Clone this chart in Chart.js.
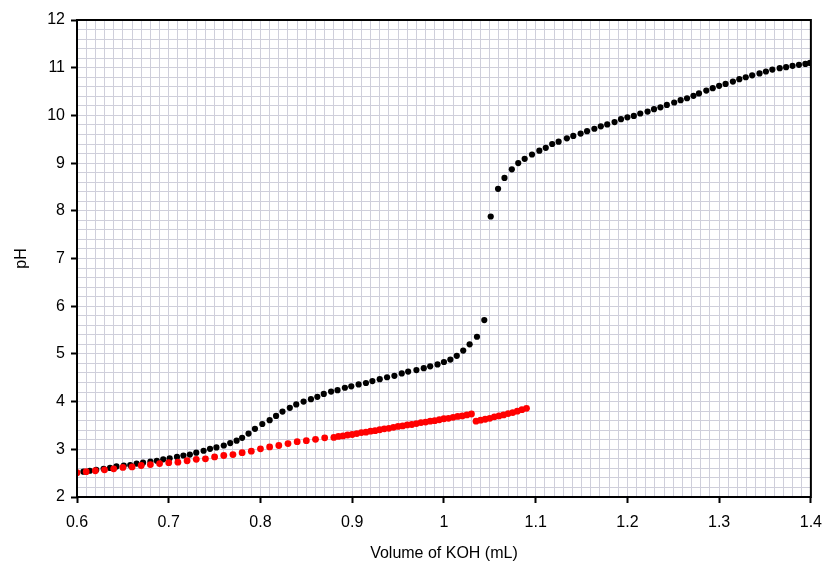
<!DOCTYPE html>
<html>
<head>
<meta charset="utf-8">
<script src="https://cdn.jsdelivr.net/npm/chart.js@4/dist/chart.umd.min.js"></script>
<style>
  html, body { margin: 0; padding: 0; background: #fff; }
  #wrap { width: 832px; height: 571px; position: relative; }
</style>
</head>
<body>
<div id="wrap"><canvas id="c"></canvas></div>
<script>
'use strict';
// Titration curves: pH vs volume of KOH.

const blackVol = [
  0.607, 0.614, 0.621, 0.629, 0.636, 0.643, 0.651, 0.658, 0.665, 0.672, 0.680, 0.687, 0.694,
  0.701, 0.709, 0.716, 0.723, 0.730, 0.738, 0.745, 0.752, 0.760, 0.767, 0.774, 0.780, 0.787,
  0.794, 0.802, 0.810, 0.817, 0.824, 0.832, 0.839, 0.847, 0.855, 0.862, 0.869, 0.877, 0.884,
  0.892, 0.899, 0.907, 0.915, 0.922, 0.930, 0.938, 0.946, 0.954, 0.961, 0.970, 0.978, 0.985,
  0.993, 1.000, 1.007, 1.014, 1.021, 1.028, 1.036, 1.044,
  1.051, 1.059, 1.066, 1.074, 1.081, 1.088, 1.096, 1.104, 1.111, 1.118, 1.125, 1.134, 1.141,
  1.149, 1.156, 1.164, 1.171, 1.178, 1.186, 1.193, 1.200, 1.207, 1.214, 1.222, 1.229, 1.236,
  1.243, 1.251, 1.258, 1.265, 1.272, 1.278, 1.286, 1.293, 1.300, 1.307, 1.315, 1.322, 1.329,
  1.336, 1.344, 1.351, 1.358, 1.366, 1.373, 1.380, 1.387, 1.394, 1.399
];
const blackPH = [
  2.53, 2.55, 2.57, 2.59, 2.61, 2.64, 2.66, 2.67, 2.70, 2.72, 2.74, 2.76, 2.79,
  2.81, 2.84, 2.87, 2.89, 2.93, 2.97, 3.01, 3.04, 3.08, 3.13, 3.18, 3.24, 3.33,
  3.43, 3.53, 3.61, 3.70, 3.79, 3.87, 3.94, 4.00, 4.05, 4.10, 4.16, 4.21, 4.24,
  4.29, 4.32, 4.36, 4.39, 4.43, 4.47, 4.51, 4.54, 4.59, 4.63, 4.66, 4.70, 4.74,
  4.78, 4.83, 4.88, 4.96, 5.07, 5.20, 5.36, 5.71,
  7.88, 8.46, 8.69, 8.87, 9.00, 9.09, 9.18, 9.26, 9.32, 9.40, 9.45, 9.52, 9.57,
  9.62, 9.67, 9.72, 9.77, 9.81, 9.86, 9.92, 9.96, 9.99, 10.04, 10.08, 10.13, 10.17,
  10.22, 10.27, 10.32, 10.36, 10.41, 10.46, 10.52, 10.57, 10.62, 10.66, 10.71, 10.76, 10.80,
  10.84, 10.88, 10.92, 10.96, 10.99, 11.01, 11.04, 11.06, 11.08, 11.10
];

const redVol = [
  0.60, 0.61, 0.62, 0.63, 0.64, 0.65, 0.66, 0.67, 0.68, 0.69, 0.70, 0.71, 0.72, 0.73, 0.74,
  0.75, 0.76, 0.77, 0.78, 0.79, 0.80, 0.81, 0.82, 0.83, 0.84, 0.85, 0.86, 0.87, 0.88,
  0.885, 0.890, 0.895, 0.900, 0.905, 0.910, 0.915, 0.920, 0.925, 0.930, 0.935, 0.940, 0.945,
  0.950, 0.955, 0.960, 0.965, 0.970, 0.975, 0.980, 0.985, 0.990, 0.995, 1.000, 1.005, 1.010,
  1.015, 1.020, 1.025, 1.030,
  1.035, 1.040, 1.045, 1.050, 1.055, 1.060, 1.065, 1.070, 1.075, 1.080, 1.085, 1.090
];
const redPH = [
  2.51, 2.53, 2.55, 2.57, 2.59, 2.62, 2.63, 2.66, 2.68, 2.70, 2.72, 2.73, 2.76, 2.79, 2.80,
  2.84, 2.87, 2.89, 2.93, 2.96, 3.01, 3.05, 3.08, 3.12, 3.16, 3.18, 3.21, 3.24, 3.25,
  3.27, 3.28, 3.30, 3.31, 3.33, 3.35, 3.36, 3.38, 3.39, 3.41, 3.43, 3.44, 3.46,
  3.48, 3.49, 3.51, 3.52, 3.54, 3.56, 3.57, 3.59, 3.60, 3.62, 3.64, 3.65, 3.67,
  3.69, 3.70, 3.72, 3.74,
  3.59, 3.61, 3.63, 3.65, 3.68, 3.70, 3.72, 3.75, 3.77, 3.80, 3.83, 3.86
];

const xMin = 0.6, xMax = 1.4, xMinor = 0.01, xMajor = 0.1;
const yMin = 2, yMax = 12, yMinor = 0.2, yMajor = 1;

const gridColor = '#cfcfdb';
const font = { family: '"Liberation Sans", Arial, sans-serif', size: 16 };

function isMajor(v, step) { const q = v / step; return Math.abs(q - Math.round(q)) < 1e-6; }
function pts(xs, ys) { return xs.map((x, i) => ({ x: x, y: ys[i] })); }

// black frame round the plot area (top and right edges too)
const frame = {
  id: 'frame',
  afterDatasetsDraw(chart) {
    const a = chart.chartArea, ctx = chart.ctx;
    ctx.save();
    ctx.strokeStyle = '#000';
    ctx.lineWidth = 2;
    ctx.strokeRect(a.left, a.top, a.right - a.left, a.bottom - a.top);
    ctx.restore();
  }
};

new Chart(document.getElementById('c'), {
  type: 'scatter',
  data: {
    datasets: [
      { label: 'red', data: pts(redVol, redPH), backgroundColor: '#ff0000', borderColor: '#ff0000', pointRadius: 3.4, borderWidth: 0 },
      { label: 'black', data: pts(blackVol, blackPH), backgroundColor: '#000', borderColor: '#000', pointRadius: 3.1, borderWidth: 0 }
    ]
  },
  options: {
    responsive: true, maintainAspectRatio: false, animation: false,
    layout: { padding: { left: 0, right: 21, top: 20, bottom: 0 } },
    plugins: { legend: { display: false }, tooltip: { enabled: false } },
    scales: {
      x: {
        type: 'linear', min: xMin, max: xMax,
        afterFit: (s) => { s.height = 74; },
        border: { display: false },
        grid: {
          color: gridColor, lineWidth: 1, tickLength: 6,
          tickColor: (c) => isMajor(c.tick.value, xMajor) ? '#000' : 'rgba(0,0,0,0)',
          tickWidth: 2
        },
        ticks: {
          stepSize: xMinor, autoSkip: false, maxTicksLimit: 1000, maxRotation: 0,
          color: '#000', font: font, padding: 10,
          callback: (v) => isMajor(v, xMajor) ? String(Math.round(v * 10) / 10) : ''
        },
        title: { display: true, text: 'Volume of KOH (mL)', color: '#000', font: font, padding: { top: 4, bottom: 8 } }
      },
      y: {
        type: 'linear', min: yMin, max: yMax,
        afterFit: (s) => { s.width = 77; },
        border: { display: false },
        grid: {
          color: gridColor, lineWidth: 1, tickLength: 6,
          tickColor: (c) => isMajor(c.tick.value, yMajor) ? '#000' : 'rgba(0,0,0,0)',
          tickWidth: 2
        },
        ticks: {
          stepSize: yMinor, autoSkip: false, maxTicksLimit: 1000,
          color: '#000', font: font, padding: 6,
          callback: (v) => isMajor(v, yMajor) ? String(Math.round(v)) : ''
        },
        title: { display: true, text: 'pH', color: '#000', font: font, padding: { top: 12, bottom: 0 } }
      }
    }
  },
  plugins: [frame]
});
</script>
</body>
</html>
